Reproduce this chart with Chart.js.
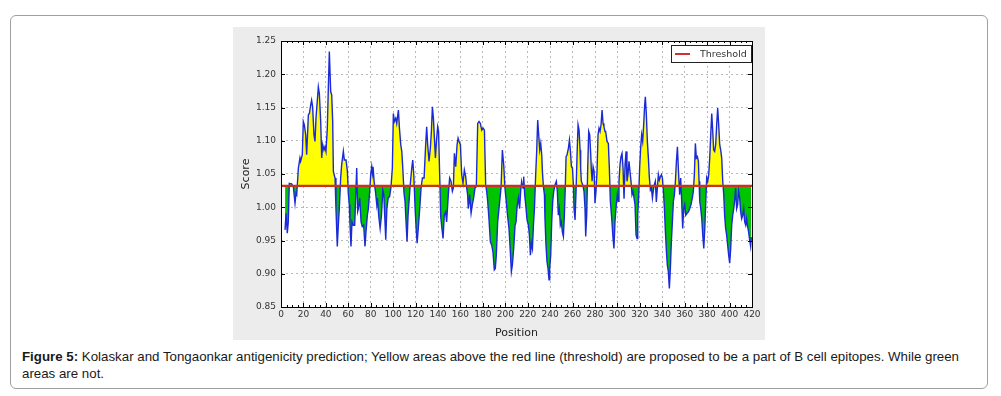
<!DOCTYPE html>
<html>
<head>
<meta charset="utf-8">
<script src="https://cdn.jsdelivr.net/npm/chart.js@4/dist/chart.umd.min.js"></script>
<style>
  html, body { margin: 0; padding: 0; background: #ffffff; width: 1001px; height: 396px; overflow: hidden; }
  #frame { position: absolute; left: 10px; top: 15px; width: 978px; height: 374px; border: 1px solid #a0a0a0; border-radius: 6px; box-sizing: border-box; }
  #fig { position: absolute; left: 233px; top: 27px; width: 532px; height: 313px; background: #ececec; }
  #caption { position: absolute; left: 22px; top: 348px; width: 965px; font-family: "Liberation Sans", Arial, sans-serif; font-size: 13.3px; line-height: 17px; color: #1a1a1a; white-space: nowrap; }
</style>
</head>
<body>
<div id="frame"></div>
<div id="fig"><canvas id="c" width="532" height="313"></canvas></div>
<div id="caption"><b>Figure 5:</b> Kolaskar and Tongaonkar antigenicity prediction; Yellow areas above the red line (threshold) are proposed to be a part of B cell epitopes. While green<br>areas are not.</div>
<script>
const positions = [3.6,4.5,5.6,6.5,7.4,9.5,11,12.5,13.4,14,15.5,16.9,17.5,19,19.9,20.8,22,22.9,24.4,25.3,26.5,27.3,28.2,29.4,30.3,31.2,32.4,33.3,34.2,35.4,36.3,37.2,38.3,39.2,40.1,41.3,42.2,43.1,44.3,45.2,46.1,46.7,48.2,49,50.2,51.1,52,53.2,54.1,55.6,56.5,58,59.2,60,60.9,61.5,62.4,63.3,64.5,65.7,66.6,67.5,68.4,69,70.2,71.4,72.5,73.7,74.9,75.8,77,77.9,79.1,80,80.9,81.5,82.1,83,84.2,85.4,86,87.2,88.4,89.6,90.8,91.7,92.6,93.4,94.4,95.6,96.8,98,99.3,100.2,101.1,102.3,103.2,104.7,105.6,106.8,107.7,108.6,109.7,110.6,111.5,112.4,113.3,114.2,115.1,116.6,117.5,118.4,119.6,120.5,121.4,122.6,123.7,124.9,126.1,127.6,129,129.9,130.8,132,133.2,134.1,135,135.9,136.8,137.7,138.6,139.7,140.5,141.5,142.4,143.5,144.5,145.6,146.8,147.7,149.2,150.4,151.6,152.8,153.7,154.6,155.8,157,157.9,158.8,160,161.1,162.3,163.5,164.7,165.6,166.4,167,168.2,169.5,170.6,171.8,173,174.2,175.4,176.6,177.8,179,180.2,181.4,182.5,183.4,184.3,185.5,186.7,187.9,189,190.2,191.1,192,193.2,194.4,195.3,196.2,197.4,198.6,199.7,200.9,202.1,203.3,204.5,205.4,206.3,207.5,208.7,209.6,210.5,211.7,212.8,213.7,214.6,215.8,216.4,217.3,218.2,219.4,220.6,221.5,222.4,223.3,224.2,225.1,226,227.1,228,228.9,229.8,230.7,231.6,232.5,233.1,234,234.9,235.4,236.3,237.2,238.1,239,239.6,240.5,241.4,242.3,243.2,244.4,245.5,246.4,247.3,248.2,249.1,250,250.9,251.8,252.7,253.6,254.2,255.1,256.3,257.2,258.1,259,259.9,260.7,261.3,262.2,263.1,264,264.9,265.8,266.7,267.2,267.8,269,270.2,271.1,271.7,272.6,273.5,274.4,275.3,276.2,276.8,277.4,278.3,279.2,280,280.9,281.8,282.7,283.6,284.5,285.4,286.3,287.2,288,288.9,289.5,290.7,291.9,292.8,293.7,294.9,296.1,296.9,297.8,299,299.9,300.8,301.4,302.3,303.2,304.1,305,305.9,306.8,307.7,308.5,309.4,310.3,311.2,312.1,313,313.9,314.8,315.7,316.6,317.5,318.1,319,319.8,320.7,321.6,322.5,323.4,324.3,324.9,325.8,326.7,327.6,328.5,329.4,330.3,331.2,332.1,332.9,333.8,334.7,335.6,336.5,337.4,338.3,339.2,340.1,341,341.9,342.8,343.7,344.5,345.4,346.3,347.2,348.1,349,349.9,350.8,351.7,352.6,353.5,354.5,355.5,356.4,357.3,358.2,359.1,360,360.9,362.1,363.3,364.5,365.6,366.8,367.7,368.6,369.5,370.4,371.3,372.2,372.8,373.4,374.3,375.2,376.1,377,377.9,378.8,379.6,380.5,381.4,382.3,383.2,384.1,385,385.8,386.7,387.6,388.5,389.4,390.3,391.2,392.1,393,393.9,394.8,395.6,396.5,397.4,398.3,399.2,400.1,401,401.9,402.8,403.7,404.5,405.4,406.3,407.2,408.1,409,409.9,410.8,411.7,412.6,413.5,414.4,415.2,416.1,417,417.9,418.8,419.4];
const scores = [0.966,0.991,0.961,0.978,1.036,1.035,1.031,1.006,1.021,1.019,1.059,1.074,1.069,1.079,1.129,1.124,1.109,1.079,1.139,1.141,1.154,1.161,1.151,1.109,1.099,1.134,1.161,1.181,1.171,1.129,1.074,1.094,1.086,1.091,1.084,1.119,1.179,1.234,1.174,1.169,1.129,1.054,1.044,0.998,0.941,0.973,0.998,1.044,1.064,1.084,1.071,1.071,1.054,1.021,1.004,0.976,0.941,0.978,0.973,0.973,1.014,1.059,0.994,0.998,1.014,0.978,0.971,0.973,0.941,0.963,0.988,0.998,1.024,1.049,1.061,1.051,1.061,1.039,1.024,1.004,1.014,0.986,0.968,0.988,1.026,1.019,0.983,0.951,0.998,1.014,1.016,1.029,1.059,1.141,1.129,1.134,1.126,1.146,1.119,1.094,1.084,1.059,1.021,1.009,0.978,0.948,0.988,1.009,1.031,1.059,1.071,1.049,0.998,0.968,0.946,0.973,0.998,1.029,1.044,1.044,1.094,1.121,1.094,1.069,1.089,1.114,1.151,1.134,1.104,1.074,1.099,1.121,1.114,1.049,0.986,0.968,0.953,0.988,0.993,0.978,1.019,1.044,1.039,1.024,1.029,1.081,1.061,1.094,1.104,1.099,1.094,1.049,1.036,1.056,1.046,1.029,1.019,0.998,1.019,0.991,1.004,1.014,1.029,1.031,1.126,1.129,1.126,1.116,1.119,1.116,1.034,1.024,1.009,0.981,0.948,0.943,0.933,0.906,0.908,0.928,0.978,0.998,1.014,1.029,1.086,1.064,1.029,1.008,0.986,0.968,0.933,0.903,0.913,0.938,0.973,0.978,1.001,1.014,0.998,1.024,1.039,1.029,1.046,1.019,1.004,0.981,0.973,0.958,0.928,0.946,0.938,0.973,0.998,1.049,1.084,1.131,1.109,1.086,1.096,1.079,1.054,1.031,1.019,0.983,0.943,0.918,0.908,0.891,0.908,0.928,0.978,1.009,1.024,1.034,1.039,1.024,0.988,0.998,0.973,0.978,0.963,0.956,0.988,1.036,1.076,1.079,1.089,1.101,1.084,1.061,1.059,1.034,0.998,0.981,1.024,1.079,1.124,1.116,1.086,1.059,1.039,1.034,1.024,0.998,0.956,0.988,1.059,1.114,1.109,1.079,1.054,1.039,1.061,1.054,1.006,1.024,1.054,1.109,1.119,1.114,1.124,1.146,1.126,1.121,1.114,1.114,1.099,1.096,1.059,1.009,0.983,0.953,0.938,0.978,1.004,1.019,1.009,1.039,1.064,1.076,1.081,1.059,1.013,1.064,1.084,1.039,1.049,1.069,1.054,1.039,1.019,1.024,1.014,1.004,0.958,0.953,0.988,1.019,1.059,1.089,1.109,1.099,1.124,1.154,1.166,1.139,1.099,1.074,1.044,1.026,1.029,1.014,1.026,1.034,1.039,1.008,1.029,1.049,1.041,1.046,1.049,1.044,1.024,0.998,0.963,0.933,0.913,0.903,0.878,0.908,0.948,0.978,1.009,1.019,1.039,1.069,1.091,1.052,1.019,1.044,1.009,0.968,0.998,1.004,0.988,0.991,0.993,0.998,1.004,1.014,1.024,1.049,1.096,1.074,1.076,1.069,1.039,1.009,0.998,0.983,0.958,0.938,0.968,1.009,1.044,1.039,1.049,1.074,1.109,1.141,1.114,1.086,1.084,1.094,1.124,1.149,1.124,1.094,1.086,1.074,1.039,1.019,0.988,0.968,0.958,0.943,0.928,0.916,0.938,0.973,0.988,0.998,1.009,1.029,0.998,1.004,1.024,1.014,0.993,0.983,0.988,0.998,0.978,0.973,0.983,0.971,0.963,0.951,0.941,0.955];
const threshold = 1.032;
const xTickValues = [0,20,40,60,80,100,120,140,160,180,200,220,240,260,280,300,320,340,360,380,400,420];
const yTickValues = [0.85,0.90,0.95,1.00,1.05,1.10,1.15,1.20,1.25];
const legendLabel = 'Threshold';

const tickFont = { family: 'DejaVu Sans', size: 9 };
const axisFont = { family: 'DejaVu Sans', size: 11 };

const framePlugin = {
  id: 'framePlugin',
  beforeDraw(chart) {
    const a = chart.chartArea, ctx = chart.ctx;
    ctx.save();
    ctx.fillStyle = '#ffffff';
    ctx.fillRect(a.left, a.top, a.right - a.left, a.bottom - a.top);
    ctx.restore();
  },
  afterDraw(chart) {
    const a = chart.chartArea, ctx = chart.ctx;
    const xs = chart.scales.x, ys = chart.scales.y;
    ctx.save();
    ctx.strokeStyle = '#000000';
    ctx.lineWidth = 1;
    ctx.beginPath();
    xTickValues.forEach(v => {
      const px = Math.round(xs.getPixelForValue(v)) + 0.5;
      ctx.moveTo(px, a.bottom); ctx.lineTo(px, a.bottom - 4);
      ctx.moveTo(px, a.top); ctx.lineTo(px, a.top + 4);
    });
    for (let v = 0; v <= 420; v += 5) {
      if (v % 20 === 0) continue;
      const px = Math.round(xs.getPixelForValue(v)) + 0.5;
      ctx.moveTo(px, a.bottom); ctx.lineTo(px, a.bottom - 2);
      ctx.moveTo(px, a.top); ctx.lineTo(px, a.top + 2);
    }
    yTickValues.forEach(v => {
      const py = Math.round(ys.getPixelForValue(v)) + 0.5;
      ctx.moveTo(a.left, py); ctx.lineTo(a.left + 4, py);
      ctx.moveTo(a.right, py); ctx.lineTo(a.right - 4, py);
    });
    ctx.stroke();
    ctx.strokeRect(Math.round(a.left) + 0.5, Math.round(a.top) + 0.5, Math.round(a.right - a.left), Math.round(a.bottom - a.top));
    // legend
    const bx = 438, by = 18.5, bw = 80, bh = 17;
    ctx.fillStyle = '#ffffff';
    ctx.fillRect(bx, by, bw, bh);
    ctx.strokeStyle = '#222222';
    ctx.strokeRect(bx + 0.5, by, bw, bh);
    ctx.strokeStyle = '#d03030';
    ctx.lineWidth = 2;
    ctx.beginPath();
    ctx.moveTo(bx + 4, by + 8.5); ctx.lineTo(bx + 19, by + 8.5);
    ctx.stroke();
    ctx.fillStyle = '#333333';
    ctx.font = '9.5px "DejaVu Sans"';
    ctx.textBaseline = 'middle';
    ctx.textAlign = 'left';
    ctx.fillText(legendLabel, bx + 29, by + 9);
    ctx.restore();
  }
};

new Chart(document.getElementById('c'), {
  type: 'line',
  data: {
    datasets: [
      {
        label: legendLabel,
        data: [{ x: 0, y: threshold }, { x: 420, y: threshold }],
        borderColor: '#c8321e',
        borderWidth: 2.2,
        pointRadius: 0,
        fill: false,
        order: 0
      },
      {
        label: 'Score',
        data: positions.map((p, i) => ({ x: p, y: scores[i] })),
        borderColor: '#1a2ad8',
        borderWidth: 1.4,
        pointRadius: 0,
        tension: 0,
        fill: { target: { value: threshold }, above: '#ffff00', below: '#00c400' },
        order: 1
      }
    ]
  },
  options: {
    responsive: false,
    animation: false,
    events: [],
    layout: { padding: { left: 0, right: 13, top: 14, bottom: 0 } },
    plugins: { legend: { display: false }, tooltip: { enabled: false } },
    scales: {
      x: {
        type: 'linear',
        min: 0, max: 420,
        afterBuildTicks: s => { s.ticks = xTickValues.map(v => ({ value: v })); },
        afterFit: s => { s.height = 33; },
        ticks: { font: tickFont, color: '#333333', padding: 2, maxRotation: 0, autoSkip: false, callback: v => String(v) },
        grid: { color: 'rgba(0,0,0,0.35)', lineWidth: 0.8, drawTicks: false },
        border: { display: false, dash: [2, 3] },
        title: { display: true, text: 'Position', font: axisFont, color: '#222222', padding: { top: 3, bottom: 0 } }
      },
      y: {
        type: 'linear',
        min: 0.85, max: 1.25,
        afterBuildTicks: s => { s.ticks = yTickValues.map(v => ({ value: v })); },
        afterFit: s => { s.width = 48; },
        ticks: { font: tickFont, color: '#333333', padding: 5, callback: v => v.toFixed(2) },
        grid: { color: 'rgba(0,0,0,0.35)', lineWidth: 0.8, drawTicks: false },
        border: { display: false, dash: [2, 3] },
        title: { display: true, text: 'Score', font: axisFont, color: '#222222', padding: { top: 7, bottom: 0 } }
      }
    }
  },
  plugins: [framePlugin]
});
</script>
</body>
</html>
